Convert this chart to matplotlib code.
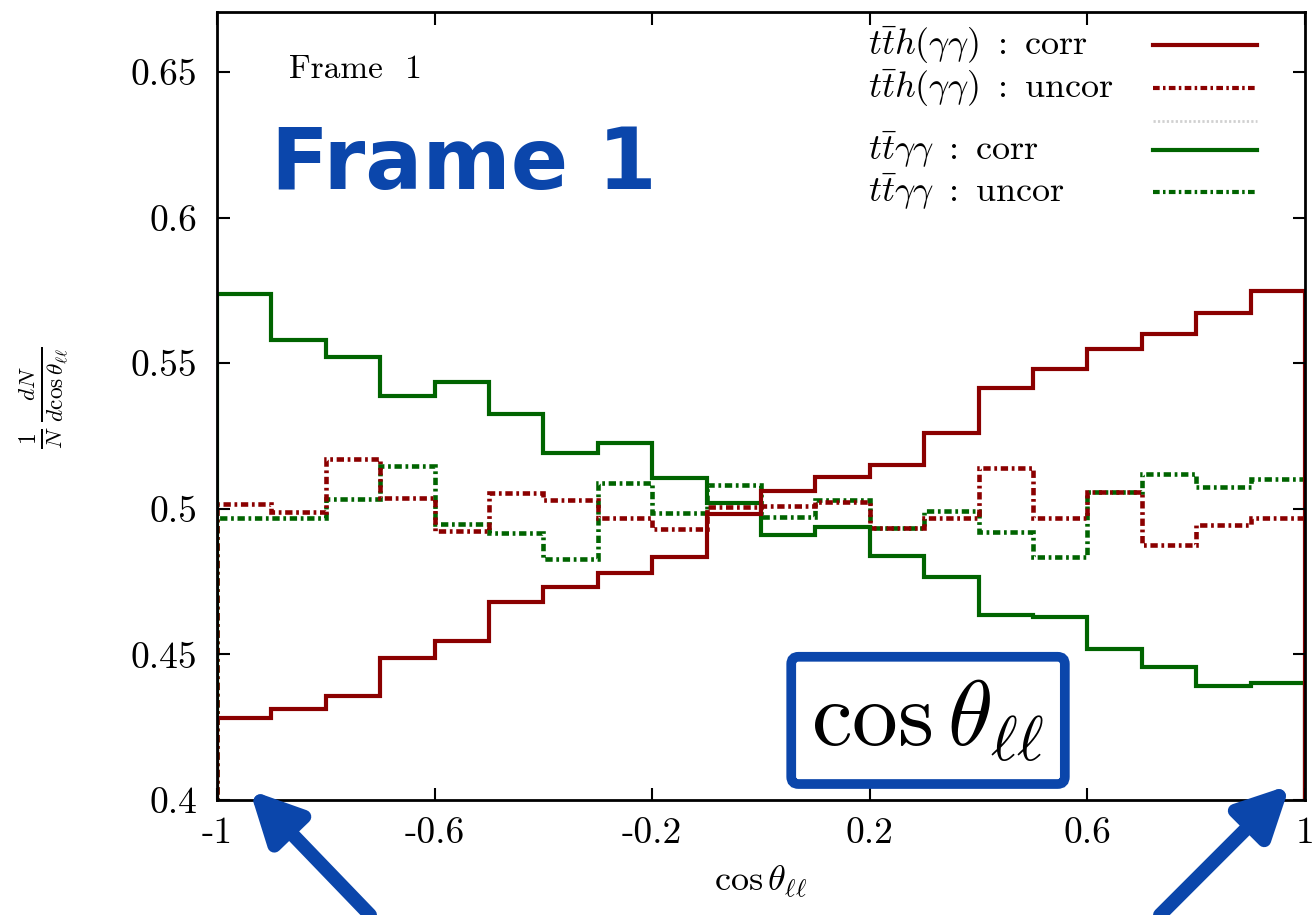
import numpy as np
import matplotlib
matplotlib.use("Agg")
from matplotlib import pyplot as plt

plt.rcParams['font.family'] = ['cmr10', 'DejaVu Serif']
plt.rcParams['mathtext.fontset'] = 'cm'
plt.rcParams['axes.unicode_minus'] = False

# cos(theta_ll) binning: 20 bins of width 0.1
edges = np.linspace(-1.0, 1.0, 21)

tth_corr = [0.4281, 0.4312, 0.4358, 0.4489, 0.4546, 0.4679, 0.4732, 0.4778, 0.4833, 0.4981,
            0.5062, 0.5110, 0.5150, 0.5259, 0.5415, 0.5480, 0.5549, 0.5600, 0.5673, 0.5748]
tth_uncor = [0.5015, 0.4988, 0.5171, 0.5036, 0.4924, 0.5055, 0.5030, 0.4967, 0.4930, 0.5005,
             0.5010, 0.5022, 0.4933, 0.4967, 0.5139, 0.4969, 0.5058, 0.4876, 0.4944, 0.4970]
ttaa_corr = [0.5737, 0.5580, 0.5522, 0.5388, 0.5434, 0.5326, 0.5191, 0.5227, 0.5105, 0.5019,
             0.4910, 0.4936, 0.4839, 0.4767, 0.4635, 0.4630, 0.4517, 0.4456, 0.4393, 0.4401]
ttaa_uncor = [0.4969, 0.4967, 0.5033, 0.5147, 0.4947, 0.4916, 0.4828, 0.5088, 0.4984, 0.5083,
              0.4973, 0.5030, 0.4933, 0.4993, 0.4921, 0.4835, 0.5058, 0.5119, 0.5076, 0.5102]

xticks = [-1, -0.6, -0.2, 0.2, 0.6, 1]
xticklabels = ['-1', '-0.6', '-0.2', '0.2', '0.6', '1']
yticks = [0.4, 0.45, 0.5, 0.55, 0.6, 0.65]
yticklabels = ['0.4', '0.45', '0.5', '0.55', '0.6', '0.65']

RED = '#8b0000'
GREEN = '#006400'
BLUE = '#0b46ab'
dashdot = (0, (1.6, 0.8, 0.6, 0.8))

fig = plt.figure(figsize=(13.14, 9.15), dpi=100)
ax = fig.add_axes([0.1651, 0.1257, 0.8281, 0.8612])

ax.stairs(ttaa_uncor, edges, baseline=0, color=GREEN, lw=3.3, linestyle=dashdot)
ax.stairs(tth_uncor, edges, baseline=0, color=RED, lw=3.3, linestyle=dashdot)
ax.stairs(ttaa_corr, edges, baseline=0, color=GREEN, lw=3)
ax.stairs(tth_corr, edges, baseline=0, color=RED, lw=3)

ax.set_xlim(-1, 1)
ax.set_ylim(0.4, 0.6706)
ax.set_xticks(xticks)
ax.set_xticklabels(xticklabels)
ax.set_yticks(yticks)
ax.set_yticklabels(yticklabels)
ax.tick_params(direction='in', length=9, width=1.5, top=True, right=True,
               labelsize=27)
ax.tick_params(axis='x', pad=12)
ax.tick_params(axis='y', pad=14)
for s in ax.spines.values():
    s.set_linewidth(2)

ax.set_xlabel(r'$\cos\theta_{\ell\ell}$', fontsize=26, labelpad=10)
fig.text(44 / 1314, 1 - 398 / 915, r'$\frac{1}{N}\,\frac{dN}{d\cos\theta_{\ell\ell}}$',
         rotation=90, ha='center', va='center', fontsize=24)

# legend drawn by hand (the blank 3rd entry is shorter than the others)
leg_rows = [
    (0.958, r'$t\bar{t}h(\gamma\gamma)\ :\ \mathrm{corr}$', RED, '-'),
    (0.9036, r'$t\bar{t}h(\gamma\gamma)\ :\ \mathrm{uncor}$', RED, dashdot),
    (0.8617, '', '#d0d0d0', (0, (0.8, 0.8))),
    (0.8249, r'$t\bar{t}\gamma\gamma\ :\ \mathrm{corr}$', GREEN, '-'),
    (0.7716, r'$t\bar{t}\gamma\gamma\ :\ \mathrm{uncor}$', GREEN, dashdot),
]
for yy, lab, col, ls in leg_rows:
    ax.text(0.598, yy, lab, transform=ax.transAxes, fontsize=26,
            ha='left', va='center')
    ax.plot([0.860, 0.956], [yy, yy], transform=ax.transAxes, color=col,
            lw=3 if col != '#d0d0d0' else 2, linestyle=ls, clip_on=False)

ax.text(0.066, 0.927, 'Frame  1', transform=ax.transAxes, fontsize=24,
        ha='left', va='center')
ax.text(0.05, 0.805, 'Frame 1', transform=ax.transAxes, fontsize=61,
        family='DejaVu Sans', weight='bold', color=BLUE, ha='left', va='center')

ax.text(0.6535, 0.101, r'$\cos\theta_{\ell\ell}$', transform=ax.transAxes,
        fontsize=66, ha='center', va='center',
        bbox=dict(boxstyle='round,pad=0.22,rounding_size=0.08', fc='white',
                  ec=BLUE, lw=7))

# arrows pointing at the edges of the range
for start, end in [((0.2816, 0.0), (0.190, 0.1366)), ((0.8828, 0.0), (0.9817, 0.142))]:
    fig.patches.append(matplotlib.patches.FancyArrowPatch(
        start, end, transform=fig.transFigure, arrowstyle='-|>',
        mutation_scale=75, lw=10, color=BLUE, shrinkA=0, shrinkB=0))

fig.savefig('out.png', dpi=100)
